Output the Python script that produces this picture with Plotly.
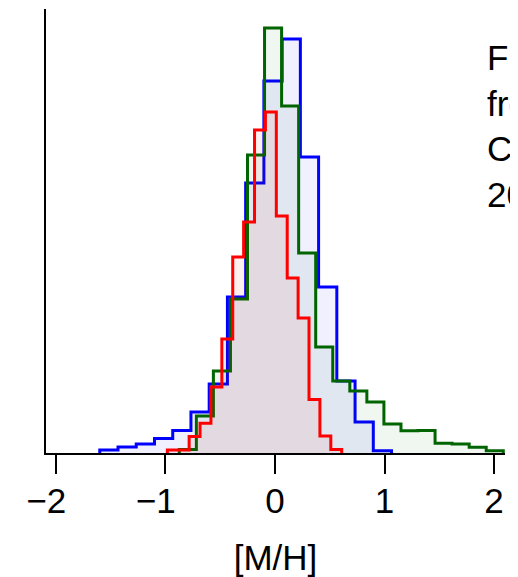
import plotly.graph_objects as go

# Histogram of [M/H] for three samples (relative counts, arbitrary units)
blue_start, blue_width = -1.600, 0.1665
blue_counts = [3, 6, 9, 14.5, 22.5, 41, 69, 156, 270, 372, 414, 296, 166, 72, 31, 2.3]

green_start, green_width = -0.874, 0.1557
green_counts = [3.5, 37, 82, 154, 298, 425, 347, 200, 106, 72, 62, 51, 29, 22.3, 22.5,
                9.7, 9, 5.7, 2.3]

red_start, red_width = -0.983, 0.0995
red_counts = [3, 3, 16.5, 29.7, 66, 114, 196, 231, 323, 341, 237, 175, 135, 53.5, 17, 3.5]

x_ticks = [-2, -1, 0, 1, 2]
# digits centred under the tick, minus sign hanging to the left (figure-space pad)
x_ticktext = ["\u22122\u2007", "\u22121\u2007", "0", "1", "2"]
x_title = "[M/H]"
side_text = "Figure<br>from<br>Casagrande<br>2011"

FONT = "Liberation Sans, Arial, Helvetica, sans-serif"


def step_xy(start, width, counts):
    edges = [start + width * i for i in range(len(counts) + 1)]
    xs = [edges[0]] + edges
    ys = [0] + list(counts) + [0]
    return xs, ys


fig = go.Figure()
series = [
    (blue_start, blue_width, blue_counts, "rgb(0,0,255)", "rgba(0,0,255,0.06)"),
    (green_start, green_width, green_counts, "rgb(0,100,0)", "rgba(0,100,0,0.06)"),
    (red_start, red_width, red_counts, "rgb(255,0,0)", "rgba(255,0,0,0.06)"),
]
for start, width, counts, lc, fc in series:
    xs, ys = step_xy(start, width, counts)
    fig.add_trace(go.Scatter(
        x=xs, y=ys, mode="lines", line=dict(shape="hv", color=lc, width=3),
        fill="tozeroy", fillcolor=fc, showlegend=False, hoverinfo="skip"))

fig.add_annotation(
    text=side_text, xref="paper", yref="paper", x=0.9565, y=0.736,
    xanchor="left", yanchor="middle", align="left", showarrow=False,
    font=dict(family=FONT, size=35, color="black"))

fig.update_layout(
    width=510, height=569,
    margin=dict(l=38, r=13, t=1, b=124),
    paper_bgcolor="white", plot_bgcolor="white",
    font=dict(family=FONT, color="black"),
    xaxis=dict(
        range=[-2.091, 2.10], tickvals=x_ticks, ticktext=x_ticktext,
        ticks="outside", ticklen=19,
        tickwidth=2, tickcolor="black", showline=True, linewidth=2, linecolor="black",
        showgrid=False, zeroline=False, tickfont=dict(size=35, family=FONT, color="black"),
        ticklabelstandoff=-3,
        title=dict(text=x_title, font=dict(size=35, family=FONT, color="black"), standoff=27),
    ),
    yaxis=dict(
        range=[0, 444], showline=True, linewidth=2, linecolor="black",
        showticklabels=False, ticks="", showgrid=False, zeroline=False,
    ),
)

fig.write_html("out.html")
